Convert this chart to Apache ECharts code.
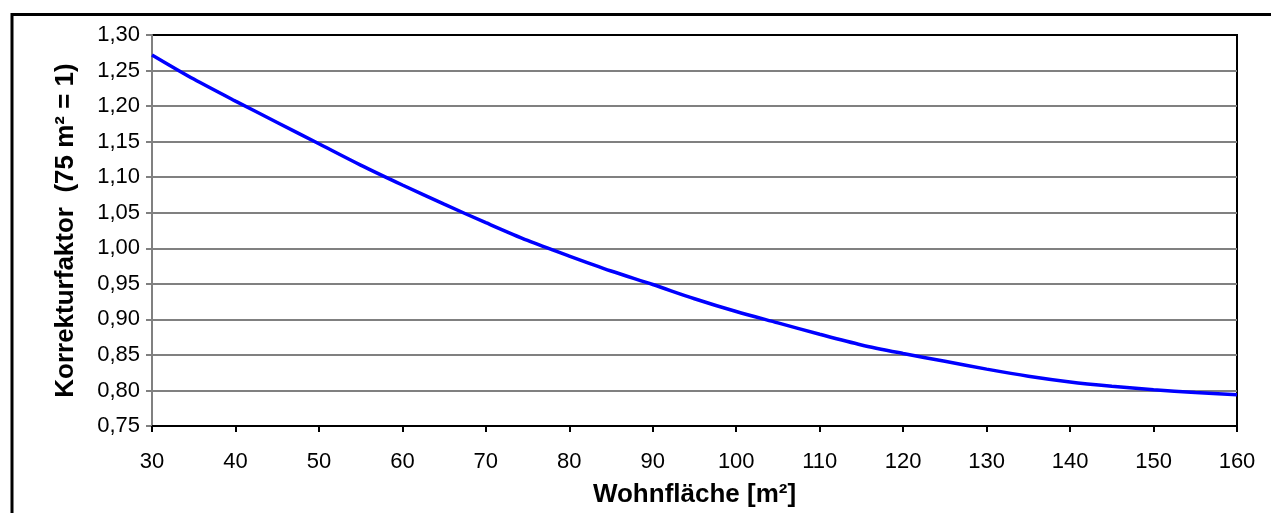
<!DOCTYPE html>
<html>
<head>
<meta charset="utf-8">
<script src="https://cdn.jsdelivr.net/npm/echarts@6/dist/echarts.min.js"></script>
<style>
  html, body { margin: 0; padding: 0; background: #fff; }
  #chart { width: 1271px; height: 513px; }
</style>
</head>
<body>
<div id="chart"></div>
<script>
// Wohnfläche in m²
const area = [30, 35, 40, 45, 50, 55, 60, 65, 70, 75, 80, 85, 90, 95,
              100, 105, 110, 115, 120, 125, 130, 135, 140, 145, 150, 155, 160];
// Korrekturfaktor bezogen auf 75 m²
const factor = [1.272, 1.238, 1.207, 1.177, 1.147, 1.117, 1.089, 1.062, 1.036, 1.011,
                0.989, 0.968, 0.949, 0.929, 0.911, 0.895, 0.879, 0.864, 0.852, 0.841,
                0.830, 0.820, 0.812, 0.806, 0.801, 0.797, 0.794];

const xTitle = 'Wohnfläche [m²]';
const yTitle = 'Korrekturfaktor  (75 m² = 1)';

const FONT = '"Liberation Sans", Arial, sans-serif';

const chart = echarts.init(document.getElementById('chart'), null, { renderer: 'canvas' });

chart.setOption({
  animation: false,
  backgroundColor: '#fff',
  grid: {
    left: 152, right: 34, top: 35, bottom: 81,
    show: true,
    borderColor: '#000',
    borderWidth: 2,
    backgroundColor: '#fff'
  },
  // outer frame of the chart area
  graphic: [{
    type: 'rect',
    shape: { x: 12, y: 14.5, width: 1400, height: 700 },
    style: { fill: null, stroke: '#000', lineWidth: 3 },
    silent: true,
    z: 100
  }],
  xAxis: {
    type: 'value',
    min: 30, max: 160, interval: 10,
    name: xTitle,
    nameLocation: 'middle',
    nameGap: 56,
    nameTextStyle: { fontFamily: FONT, fontSize: 26, fontWeight: 'bold', color: '#000' },
    axisLine: { show: true, lineStyle: { color: '#000', width: 2 } },
    axisTick: { show: true, inside: false, length: 6, lineStyle: { color: '#000', width: 2 } },
    axisLabel: {
      fontFamily: FONT, fontSize: 22, color: '#000', margin: 25
    },
    splitLine: { show: false }
  },
  yAxis: {
    type: 'value',
    min: 0.75, max: 1.30, interval: 0.05,
    name: yTitle,
    nameLocation: 'middle',
    nameGap: 73,
    nameTextStyle: { fontFamily: FONT, fontSize: 26, fontWeight: 'bold', color: '#000' },
    axisLine: { show: true, lineStyle: { color: '#808080', width: 2 } },
    axisTick: { show: true, inside: false, length: 6, lineStyle: { color: '#808080', width: 2 } },
    axisLabel: {
      fontFamily: FONT, fontSize: 22, color: '#000', margin: 12,
      formatter: v => v.toFixed(2).replace('.', ',')
    },
    splitLine: {
      show: true,
      showMinLine: false,
      showMaxLine: false,
      lineStyle: { color: '#808080', width: 2 }
    }
  },
  series: [{
    type: 'line',
    data: area.map((a, i) => [a, factor[i]]),
    showSymbol: false,
    smooth: 0.3,
    lineStyle: { color: '#0000ff', width: 3.5 },
    z: 5
  }]
});
</script>
</body>
</html>
